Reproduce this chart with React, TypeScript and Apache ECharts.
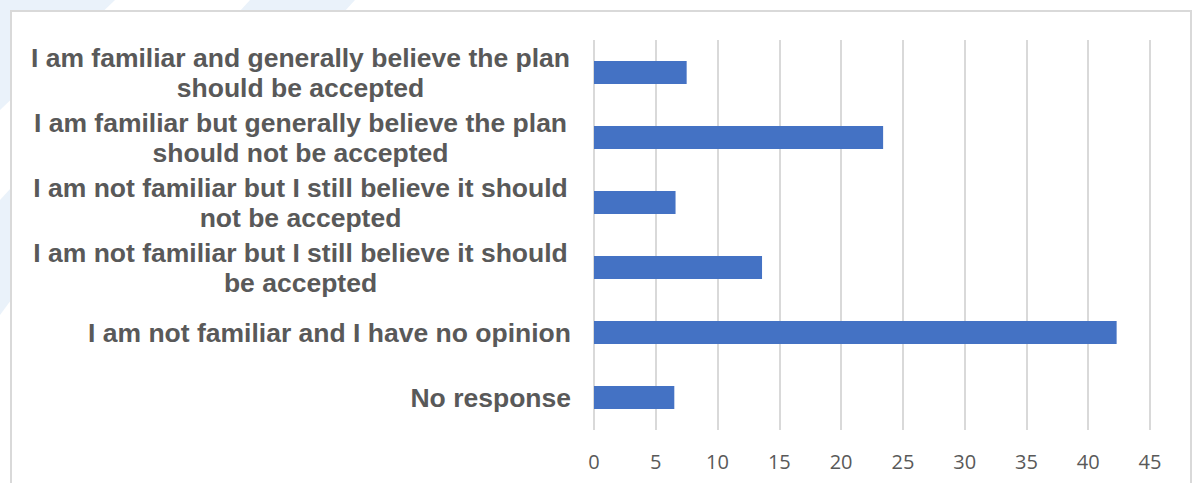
import React, { useEffect, useRef } from "react";
import * as echarts from "echarts";

const categories = [
  "I am familiar and generally believe the plan\nshould be accepted",
  "I am familiar but generally believe the plan\nshould not be accepted",
  "I am not familiar but I still believe it should\nnot be accepted",
  "I am not familiar but I still believe it should\nbe accepted",
  "I am not familiar and I have no opinion",
  "No response",
];
const values = [7.5, 23.4, 6.6, 13.6, 42.3, 6.5];

const W = 1192;
const H = 483;
const watermark = "#EAF2FA";

export default function App() {
  const ref = useRef<HTMLDivElement>(null);
  useEffect(() => {
    if (!ref.current) return;
    const chart = echarts.init(ref.current, undefined, { renderer: "svg" });
    chart.setOption({
      animation: false,
      backgroundColor: "#ffffff",
      graphic: [
        { type: "polygon", z: -20, shape: { points: [[0, 0], [115, 0], [0, 110]] }, style: { fill: watermark } },
        { type: "polygon", z: -20, shape: { points: [[250, 0], [355, 0], [300, 60], [195, 60]] }, style: { fill: watermark } },
        { type: "polygon", z: -20, shape: { points: [[0, 200], [11, 188], [11, 300], [0, 315]] }, style: { fill: watermark } },
        {
          type: "rect",
          z: -10,
          shape: { x: 11, y: 11, width: 1180, height: 490 },
          style: { fill: "#ffffff", stroke: "#d9d9d9", lineWidth: 2 },
        },
      ],
      grid: { left: 594, right: 42, top: 40, bottom: 53, containLabel: false },
      xAxis: {
        type: "value",
        min: 0,
        max: 45,
        interval: 5,
        axisLine: { show: false },
        axisTick: { show: false },
        splitLine: { show: true, lineStyle: { color: "#d9d9d9", width: 2 } },
        axisLabel: { color: "#595959", fontSize: 20, fontFamily: "Open Sans, sans-serif", margin: 21 },
      },
      yAxis: {
        type: "category",
        inverse: true,
        data: categories,
        axisLine: { show: false },
        axisTick: { show: false },
        axisLabel: {
          color: "#595959",
          fontSize: 26.5,
          fontWeight: "bold",
          fontFamily: "Liberation Sans, Arial, sans-serif",
          lineHeight: 30,
          margin: 23,
          align: "right",
          formatter: (v: string) =>
            v.includes("\n")
              ? v.split("\n").map((l) => `{c|${l}}`).join("\n")
              : v,
          rich: {
            c: {
              width: 541,
              align: "center",
              fontSize: 26.5,
              fontWeight: "bold",
              lineHeight: 30,
              color: "#595959",
              fontFamily: "Liberation Sans, Arial, sans-serif",
            },
          },
        },
      },
      series: [
        {
          type: "bar",
          data: values,
          barWidth: 23,
          itemStyle: { color: "#4472C4" },
        },
      ],
    });
    return () => chart.dispose();
  }, []);
  return (
    <div
      ref={ref}
      style={{ position: "absolute", left: 0, top: 0, width: W, height: H }}
    />
  );
}
